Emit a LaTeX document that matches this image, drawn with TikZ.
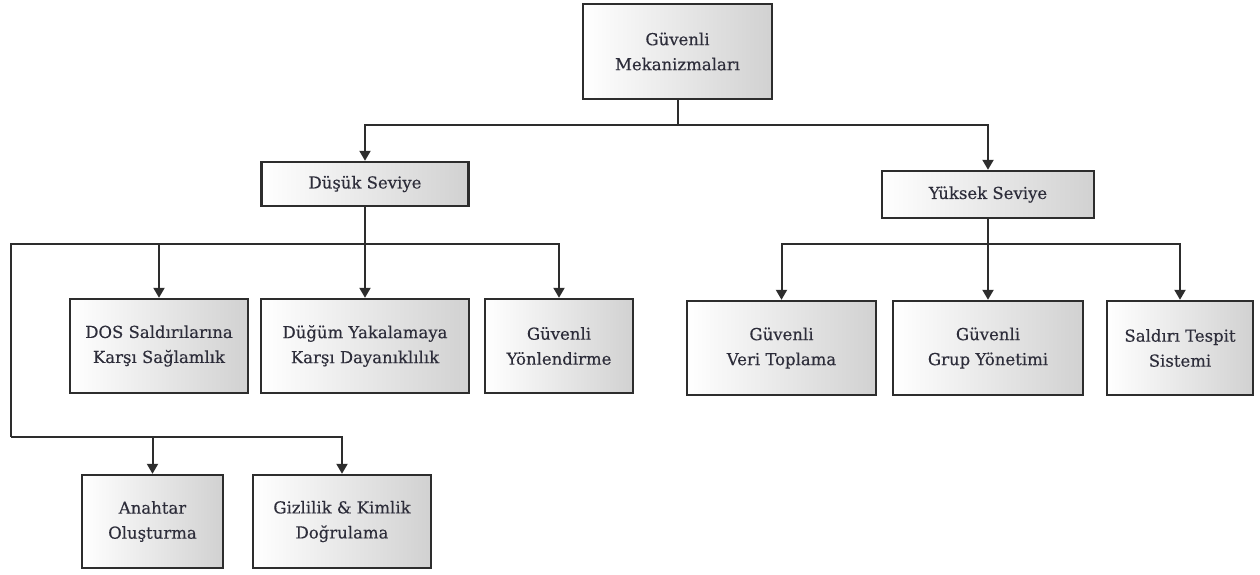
\documentclass[tikz,border=0pt]{standalone}
\usepackage{fontspec}
\setmainfont{DejaVu Serif}
\newfontfamily\boxfont[FakeBold=0.3]{DejaVu Serif}
\usetikzlibrary{arrows.meta}
\definecolor{txt}{RGB}{45,45,58}
\definecolor{ln}{RGB}{45,45,45}
\tikzset{
  box/.style={draw=ln, line width=2.4pt, left color=white, right color=black!18,
    inner sep=2pt, align=center, text=txt,
    font=\boxfont\fontsize{16.5}{25}\selectfont, anchor=center},
  conn/.style={draw=ln, line width=2pt},
  arr/.style={conn, -{Triangle[width=11pt,length=10pt]}}
}
\begin{document}
\begin{tikzpicture}[x=1pt,y=1pt]
\useasboundingbox (0,0) rectangle (1260,-574);
\node[box, minimum width=189pt, minimum height=95pt] (top) at (677.5,-51.5) {Güvenli\\Mekanizmaları};
\node[box, minimum width=207pt, minimum height=44pt] (dusuk) at (365,-184) {Düşük Seviye};
\node[box, minimum width=212pt, minimum height=47pt] (yuksek) at (988,-194.5) {Yüksek Seviye};
\node[box, minimum width=178pt, minimum height=94pt] (dos) at (159,-346) {DOS Saldırılarına\\Karşı Sağlamlık};
\node[box, minimum width=208pt, minimum height=94pt] (dugum) at (365,-346) {Düğüm Yakalamaya\\Karşı Dayanıklılık};
\node[box, minimum width=148pt, minimum height=94pt] (yon) at (559,-346) {Güvenli\\Yönlendirme};
\node[box, minimum width=189pt, minimum height=94pt] (veri) at (781.5,-348) {Güvenli\\Veri Toplama};
\node[box, minimum width=190pt, minimum height=94pt] (grup) at (988,-348) {Güvenli\\Grup Yönetimi};
\node[box, minimum width=146pt, minimum height=94pt] (saldiri) at (1180,-348) {Saldırı Tespit\\Sistemi};
\node[box, minimum width=141pt, minimum height=93pt] (anahtar) at (152.5,-521.5) {Anahtar\\Oluşturma};
\node[box, minimum width=178pt, minimum height=93pt] (gizli) at (342,-521.5) {Gizlilik \& Kimlik\\Doğrulama};
\coordinate (j1) at (677.5,-125);
\coordinate (j2) at (365,-244);
\coordinate (j3) at (988,-244);
\coordinate (c1) at (11,-437);
\draw[conn] (top.south) -- (j1);
\draw[arr] (j1) -| (dusuk.north);
\draw[arr] (j1) -| (yuksek.north);
\draw[arr] (dusuk.south) -- (dugum.north);
\draw[arr] (j2) -| (dos.north);
\draw[arr] (j2) -| (yon.north);
\draw[conn] (j2) -| (c1);
\draw[arr] (c1) -| (anahtar.north);
\draw[arr] (c1) -| (gizli.north);
\draw[arr] (yuksek.south) -- (grup.north);
\draw[arr] (j3) -| (veri.north);
\draw[arr] (j3) -| (saldiri.north);
\end{tikzpicture}
\end{document}
